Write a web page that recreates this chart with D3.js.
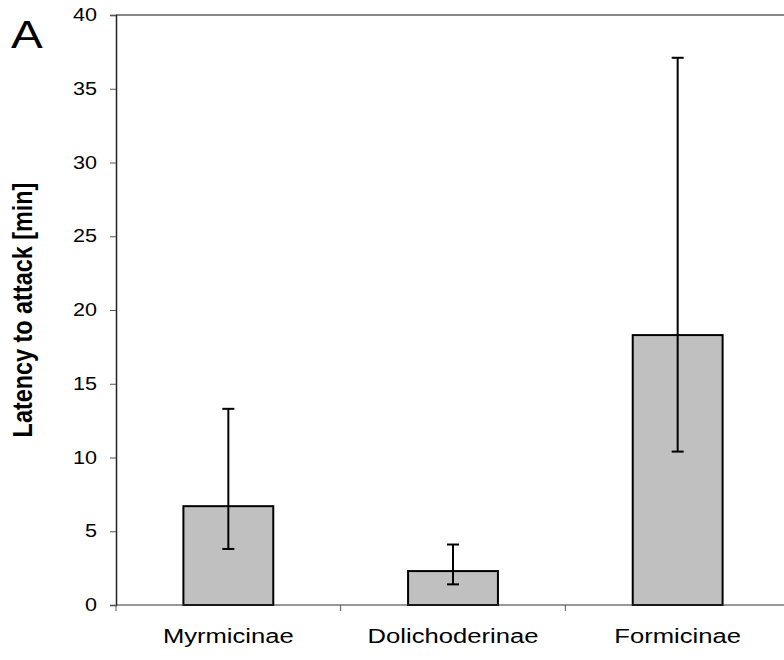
<!DOCTYPE html>
<html>
<head>
<meta charset="utf-8">
<script src="https://cdn.jsdelivr.net/npm/d3@7"></script>
<style>
  body { margin: 0; background: #fff; }
  svg { display: block; font-family: "Liberation Sans", Arial, sans-serif; }
</style>
</head>
<body>
<script>
'use strict';
// values
var categories = ["Myrmicinae", "Dolichoderinae", "Formicinae"];
var means = [6.7, 2.3, 18.3];
var errLow = [3.8, 1.4, 10.4];
var errHigh = [13.3, 4.1, 37.1];
var yTicks = [0, 5, 10, 15, 20, 25, 30, 35, 40];

var width = 784, height = 660;
var mLeft = 116, mRight = 790, mTop = 15, mBottom = 605;
var stretch = 1.22; // the original text is a bit wider than tall

var svg = d3.select("body").append("svg")
    .attr("width", width)
    .attr("height", height);

var x = d3.scaleBand()
    .domain(categories)
    .range([mLeft, mRight])
    .paddingInner(0.6)
    .paddingOuter(0.3);

var y = d3.scaleLinear()
    .domain([0, 40])
    .range([mBottom, mTop]);

var data = categories.map(function(c, i) {
    return { name: c, mean: means[i], lo: errLow[i], hi: errHigh[i] };
});
var cx = d => x(d.name) + x.bandwidth() / 2;

// plot frame top edge
svg.append("line")
    .attr("x1", mLeft).attr("x2", mRight)
    .attr("y1", mTop).attr("y2", mTop)
    .attr("stroke", "#868686")
    .attr("stroke-width", 2);

// bars
svg.append("g").selectAll("rect")
    .data(data)
    .enter().append("rect")
        .attr("x", d => x(d.name))
        .attr("y", d => y(d.mean))
        .attr("width", x.bandwidth())
        .attr("height", d => y(0) - y(d.mean))
        .attr("fill", "#c0c0c0")
        .attr("stroke", "#000")
        .attr("stroke-width", 2);

// error bars
var eb = svg.append("g").selectAll("g")
    .data(data)
    .enter().append("g")
        .attr("stroke", "#000")
        .attr("stroke-width", 2);
eb.append("line")
    .attr("x1", cx).attr("x2", cx)
    .attr("y1", d => y(d.lo))
    .attr("y2", d => y(d.hi));
eb.append("line")
    .attr("x1", d => cx(d) - 6).attr("x2", d => cx(d) + 6)
    .attr("y1", d => y(d.hi)).attr("y2", d => y(d.hi));
eb.append("line")
    .attr("x1", d => cx(d) - 6).attr("x2", d => cx(d) + 6)
    .attr("y1", d => y(d.lo)).attr("y2", d => y(d.lo));

// y axis
var yAxis = svg.append("g")
    .attr("transform", "translate(" + mLeft + ",0)")
    .call(d3.axisLeft(y).tickValues(yTicks).tickSize(6));
yAxis.select(".domain").attr("stroke", "#222").attr("stroke-width", 1.5);
yAxis.selectAll(".tick line").attr("stroke", "#555");
yAxis.selectAll(".tick text")
    .attr("x", 0)
    .attr("transform", "translate(-19,0) scale(" + stretch + ",1)")
    .attr("font-size", 17.7)
    .attr("fill", "#000")
    .attr("font-family", "Liberation Sans, Arial, sans-serif");

// x axis: ticks at band boundaries
var gap = (x.step() - x.bandwidth()) / 2;
var xAxisG = svg.append("g");
xAxisG.append("line")
    .attr("x1", mLeft).attr("x2", mRight)
    .attr("y1", mBottom).attr("y2", mBottom)
    .attr("stroke", "#333")
    .attr("stroke-width", 1.2);
xAxisG.selectAll("line.tk")
    .data(categories)
    .enter().append("line")
        .attr("class", "tk")
        .attr("x1", d => x(d) - gap)
        .attr("x2", d => x(d) - gap)
        .attr("y1", mBottom)
        .attr("y2", mBottom + 6)
        .attr("stroke", "#555");
xAxisG.selectAll("text")
    .data(categories)
    .enter().append("text")
        .attr("transform", d => "translate(" + (x(d) + x.bandwidth() / 2) + ",643) scale(" + stretch + ",1)")
        .attr("text-anchor", "middle")
        .attr("font-size", 21)
        .text(d => d);

// y axis title
svg.append("text")
    .attr("transform", "translate(32," + ((mTop + mBottom) / 2) + ") scale(" + stretch + ",1) rotate(-90)")
    .attr("text-anchor", "middle")
    .attr("font-size", 23.4)
    .attr("font-weight", "bold")
    .text("Latency to attack [min]");

// panel letter
svg.append("text")
    .attr("transform", "translate(11,48) scale(" + stretch + ",1)")
    .attr("font-size", 39)
    .text("A");
</script>
</body>
</html>
